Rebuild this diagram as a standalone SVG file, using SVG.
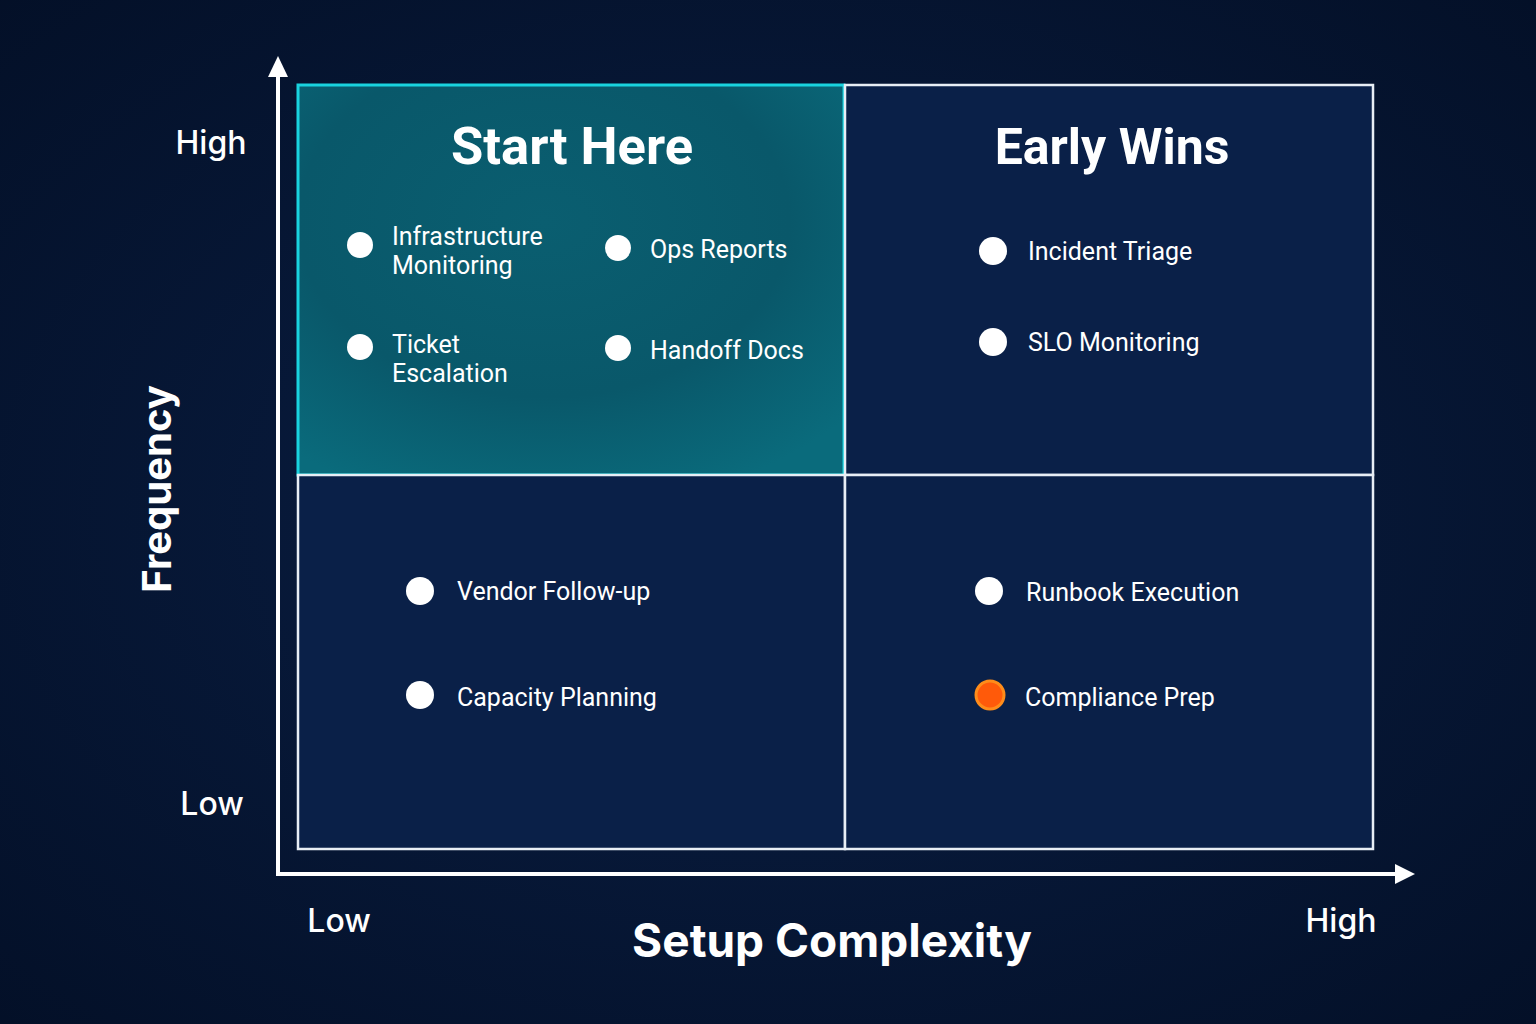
<svg xmlns="http://www.w3.org/2000/svg" width="1536" height="1024" viewBox="0 0 1536 1024">
<defs>
<radialGradient id="bg" cx="50%" cy="50%" r="75%">
<stop offset="0" stop-color="#0a1f45"/>
<stop offset="1" stop-color="#030f26"/>
</radialGradient>
<radialGradient id="tealL" cx="45%" cy="35%" r="75%">
<stop offset="0" stop-color="#0a5e70"/>
<stop offset="0.6" stop-color="#09586a"/>
<stop offset="1" stop-color="#0a6b7c"/>
</radialGradient>
</defs>
<style>
.q{fill:#0a2048;stroke:#e8eef5;stroke-width:2.5}
.title{font-family:Roboto,Inter,"Liberation Sans",sans-serif;font-weight:700;font-size:50px;fill:#ffffff;text-anchor:middle}
.item{font-family:Roboto,Inter,"Liberation Sans",sans-serif;font-size:25px;fill:#ffffff}
.dot{fill:#ffffff}
.ax{font-family:Inter,Roboto,"Liberation Sans",sans-serif;font-weight:500;font-size:32px;fill:#ffffff;text-anchor:middle}
.axt{font-family:Inter,Roboto,"Liberation Sans",sans-serif;font-weight:700;font-size:46px;fill:#ffffff;text-anchor:middle}
.axis{stroke:#ffffff;stroke-width:4;fill:none}
.head{fill:#ffffff}
</style>
<rect width="1536" height="1024" fill="url(#bg)"/>

<g id="quadrant-start-here">
<rect x="298" y="85" width="546" height="390" fill="url(#tealL)" stroke="#19d3df" stroke-width="3"/>
<text class="title" x="572" y="164" style="font-size:52.5px">Start Here</text>
</g>
<g id="quadrant-early-wins">
<rect class="q" x="845" y="85" width="528" height="390"/>
<text class="title" x="1112" y="164">Early Wins</text>
</g>
<g id="quadrant-bottom-left">
<rect class="q" x="298" y="475" width="547" height="374"/>
</g>
<g id="quadrant-bottom-right">
<rect class="q" x="845" y="475" width="528" height="374"/>
</g>

<g id="connectors">
<line class="axis" x1="278" y1="876" x2="278" y2="74"/>
<polygon class="head" points="278,56 268,77 288,77"/>
<line class="axis" x1="276" y1="874" x2="1398" y2="874"/>
<polygon class="head" points="1415,874 1395,864 1395,884"/>
</g>

<g id="item-infrastructure-monitoring">
<circle class="dot" cx="360" cy="245" r="13"/>
<text class="item" x="392" y="245">Infrastructure</text>
<text class="item" x="392" y="274">Monitoring</text>
</g>
<g id="item-ops-reports">
<circle class="dot" cx="618" cy="248" r="13"/>
<text class="item" x="650" y="258">Ops Reports</text>
</g>
<g id="item-ticket-escalation">
<circle class="dot" cx="360" cy="347" r="13"/>
<text class="item" x="392" y="353">Ticket</text>
<text class="item" x="392" y="382">Escalation</text>
</g>
<g id="item-handoff-docs">
<circle class="dot" cx="618" cy="348" r="13"/>
<text class="item" x="650" y="359">Handoff Docs</text>
</g>
<g id="item-incident-triage">
<circle class="dot" cx="993" cy="251" r="14"/>
<text class="item" x="1028" y="260">Incident Triage</text>
</g>
<g id="item-slo-monitoring">
<circle class="dot" cx="993" cy="342" r="14"/>
<text class="item" x="1028" y="351">SLO Monitoring</text>
</g>
<g id="item-vendor-follow-up">
<circle class="dot" cx="420" cy="591" r="14"/>
<text class="item" x="457" y="600">Vendor Follow-up</text>
</g>
<g id="item-capacity-planning">
<circle class="dot" cx="420" cy="695" r="14"/>
<text class="item" x="457" y="706">Capacity Planning</text>
</g>
<g id="item-runbook-execution">
<circle class="dot" cx="989" cy="591" r="14"/>
<text class="item" x="1026" y="601">Runbook Execution</text>
</g>
<g id="item-compliance-prep">
<circle cx="990" cy="695" r="14" fill="#ff5a0a" stroke="#ff8c1a" stroke-width="3"/>
<text class="item" x="1025" y="706">Compliance Prep</text>
</g>

<g id="axis-labels">
<text class="ax" x="211" y="154">High</text>
<text class="ax" x="212" y="815">Low</text>
<text class="ax" x="339" y="932">Low</text>
<text class="ax" x="1341" y="932">High</text>
<text class="axt" x="832" y="957">Setup Complexity</text>
<text class="axt" x="0" y="0" style="font-size:40px" transform="translate(171,489) rotate(-90)">Frequency</text>
</g>
</svg>
